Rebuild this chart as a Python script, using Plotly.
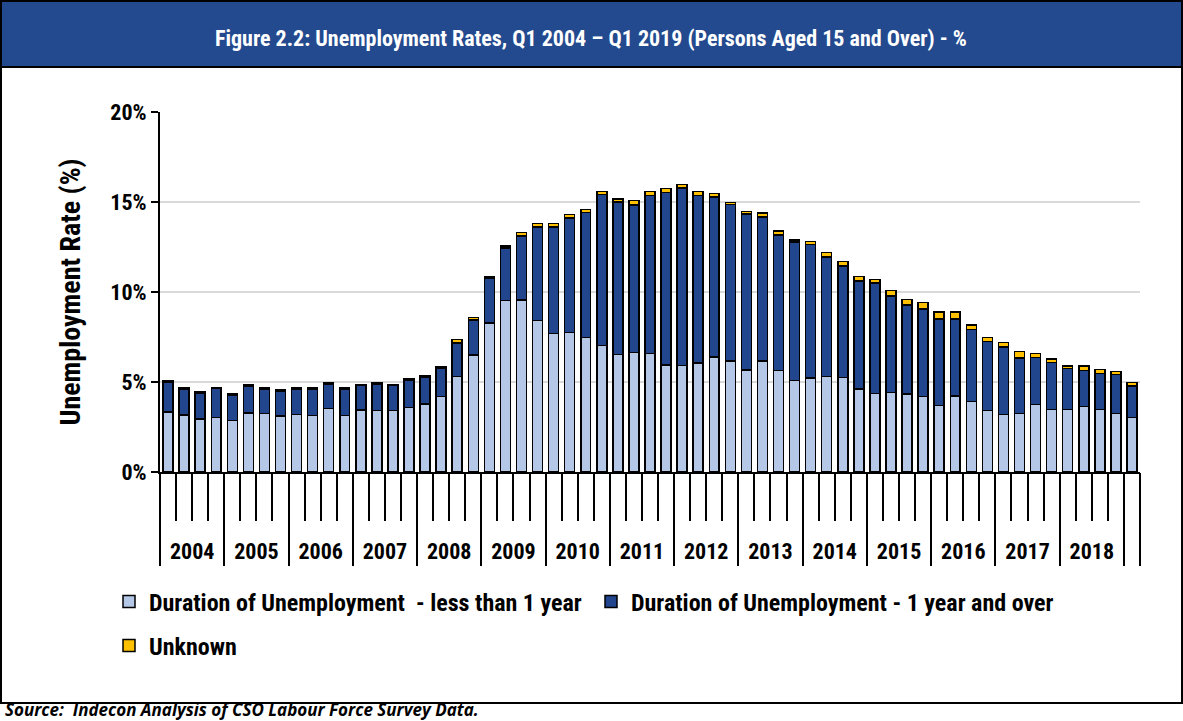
import plotly.graph_objects as go

# Quarterly unemployment rate (%) by duration, Q1 2004 - Q1 2019
years = list(range(2004, 2020))
quarters = [f"Q{q} {y}" for y in years for q in range(1, 5)][:61]

less_than_1yr = [
    3.33, 3.17, 2.94, 3.02, 2.85, 3.28, 3.26, 3.11, 3.20, 3.15, 3.52, 3.15,
    3.44, 3.43, 3.43, 3.57, 3.78, 4.20, 5.30, 6.49, 8.28, 9.54, 9.56, 8.41,
    7.70, 7.76, 7.46, 7.02, 6.54, 6.63, 6.57, 5.94, 5.91, 6.06, 6.39, 6.17,
    5.67, 6.17, 5.65, 5.07, 5.22, 5.30, 5.26, 4.61, 4.35, 4.43, 4.34, 4.19,
    3.69, 4.22, 3.93, 3.41, 3.20, 3.26, 3.76, 3.46, 3.48, 3.63, 3.48, 3.26,
    3.02,
]
one_year_plus = [
    1.66, 1.44, 1.44, 1.61, 1.44, 1.51, 1.35, 1.40, 1.41, 1.46, 1.34, 1.46,
    1.37, 1.43, 1.38, 1.54, 1.51, 1.57, 1.87, 1.96, 2.49, 2.90, 3.56, 5.19,
    5.92, 6.36, 6.95, 8.41, 8.46, 8.20, 8.80, 9.60, 9.88, 9.31, 8.89, 8.69,
    8.67, 8.00, 7.52, 7.70, 7.41, 6.64, 6.19, 6.00, 6.15, 5.36, 4.94, 4.87,
    4.82, 4.29, 3.98, 3.83, 3.75, 3.07, 2.59, 2.62, 2.26, 2.00, 1.98, 2.16,
    1.76,
]
unknown = [
    0.08, 0.06, 0.06, 0.06, 0.06, 0.08, 0.06, 0.06, 0.06, 0.06, 0.08, 0.06,
    0.06, 0.08, 0.06, 0.06, 0.08, 0.10, 0.20, 0.12, 0.08, 0.12, 0.18, 0.20,
    0.18, 0.18, 0.18, 0.14, 0.17, 0.26, 0.22, 0.22, 0.17, 0.22, 0.20, 0.12,
    0.14, 0.22, 0.22, 0.12, 0.18, 0.26, 0.24, 0.26, 0.20, 0.28, 0.30, 0.35,
    0.38, 0.38, 0.26, 0.24, 0.24, 0.36, 0.22, 0.20, 0.15, 0.26, 0.24, 0.15,
    0.20,
]
year_labels = [str(y) for y in range(2004, 2019)]
y_ticks = [0, 5, 10, 15, 20]
y_tick_labels = [f"{v}%" for v in y_ticks]

FONT = "Liberation Sans Narrow, Arial Narrow, Roboto Condensed, Lato, sans-serif"
SOURCE_FONT = "Open Sans"
LIGHT = "#B4C7E7"
DARK = "#22468E"
GOLD = "#FFC000"
NAVY_BAR = "#234A8E"

W, H = 1183, 721
L, R, T, B = 160, 43, 112, 249
PW, PH = W - L - R, H - T - B


def px(xp):
    return (xp - L) / PW


def py(yp):
    return (H - B - yp) / PH


fig = go.Figure()
outline = dict(color="black", width=1.5)
fig.add_trace(go.Bar(x=quarters, y=less_than_1yr,
                     name="Duration of Unemployment  - less than 1 year",
                     marker=dict(color=LIGHT, line=outline), legend="legend"))
fig.add_trace(go.Bar(x=quarters, y=one_year_plus,
                     name="Duration of Unemployment - 1 year and over",
                     marker=dict(color=DARK, line=outline), legend="legend"))
fig.add_trace(go.Bar(x=quarters, y=unknown, name="Unknown",
                     marker=dict(color=GOLD, line=outline), legend="legend2"))

n = len(quarters)
year_bounds = [4 * k - 0.5 for k in range(len(year_labels) + 1)] + [n - 0.5]
year_centres = [4 * k + 1.5 for k in range(len(year_labels))]

# empty helper traces so the year-divider and year-label axes are drawn
fig.add_trace(go.Scatter(x=year_bounds, y=[None] * len(year_bounds),
                         xaxis="x2", yaxis="y", mode="markers",
                         showlegend=False, hoverinfo="skip"))
fig.add_trace(go.Scatter(x=year_centres, y=[None] * len(year_centres),
                         xaxis="x3", yaxis="y", mode="markers",
                         showlegend=False, hoverinfo="skip"))

fig.update_layout(
    width=W, height=H,
    margin=dict(l=L, r=R, t=T, b=B, autoexpand=False),
    paper_bgcolor="white", plot_bgcolor="white",
    barmode="stack", bargap=0.38,
    font=dict(family=FONT, color="black", size=19),
    xaxis=dict(type="category", range=[-0.5, n - 0.5], tickmode="linear",
               tick0=0, dtick=1, tickson="boundaries", ticks="outside",
               ticklen=47, tickwidth=2, tickcolor="black",
               showticklabels=False, showgrid=False, showline=True,
               linecolor="black", linewidth=2, fixedrange=True),
    xaxis2=dict(overlaying="x", anchor="y", side="bottom", type="linear",
                range=[-0.5, n - 0.5], tickmode="array", tickvals=year_bounds,
                ticks="outside", ticklen=93, tickwidth=2, tickcolor="black",
                showticklabels=False, showgrid=False, zeroline=False,
                showline=False),
    xaxis3=dict(overlaying="x", anchor="y", side="bottom", type="linear",
                range=[-0.5, n - 0.5], tickmode="array", tickvals=year_centres,
                ticktext=year_labels, ticks="", ticklabelstandoff=64,
                tickfont=dict(family=FONT, size=22, weight="bold"),
                showgrid=False, zeroline=False, showline=False),
    yaxis=dict(range=[0, 20], tickmode="array", tickvals=y_ticks,
               ticktext=y_tick_labels, ticks="outside", ticklen=7,
               tickwidth=2, tickcolor="black", showline=True,
               linecolor="black", linewidth=2, gridcolor="#D9D9D9",
               gridwidth=2, zeroline=False,
               tickfont=dict(family=FONT, size=22, weight="bold"),
               title=dict(text="Unemployment Rate (%)", standoff=22,
                          font=dict(family=FONT, size=28, weight="bold"))),
    legend=dict(orientation="h", x=px(109), y=py(602), xanchor="left",
                yanchor="middle", traceorder="normal", entrywidth=437,
                font=dict(family=FONT, size=24, weight="bold"),
                bgcolor="rgba(0,0,0,0)"),
    legend2=dict(orientation="h", x=px(109), y=py(646), xanchor="left",
                 yanchor="middle",
                 font=dict(family=FONT, size=24, weight="bold"),
                 bgcolor="rgba(0,0,0,0)"),
    shapes=[
        # title banner
        dict(type="rect", xref="paper", yref="paper", x0=px(2), x1=px(1183),
             y0=py(66), y1=py(2), fillcolor=NAVY_BAR, line=dict(width=0),
             layer="below"),
        # outer frame
        dict(type="rect", xref="paper", yref="paper", x0=px(1), x1=px(1182),
             y0=py(703), y1=py(1), line=dict(color="black", width=2)),
        dict(type="line", xref="paper", yref="paper", x0=px(1), x1=px(1182),
             y0=py(67), y1=py(67), line=dict(color="black", width=2)),
    ],
    annotations=[
        dict(text="Figure 2.2: Unemployment Rates, Q1 2004 \u2013 Q1 2019 "
                  "(Persons Aged 15 and Over) - %",
             xref="paper", yref="paper", x=px(591), y=py(38),
             xanchor="center", yanchor="middle", showarrow=False,
             font=dict(family=FONT, size=22, color="white", weight="bold")),
        dict(text="<i>Source:  Indecon Analysis of CSO Labour Force Survey Data.</i>",
             xref="paper", yref="paper", x=px(3), y=py(709),
             xanchor="left", yanchor="middle", showarrow=False,
             font=dict(family=SOURCE_FONT, size=17, color="black",
                       weight="bold")),
    ],
)

fig.write_html("out.html")
